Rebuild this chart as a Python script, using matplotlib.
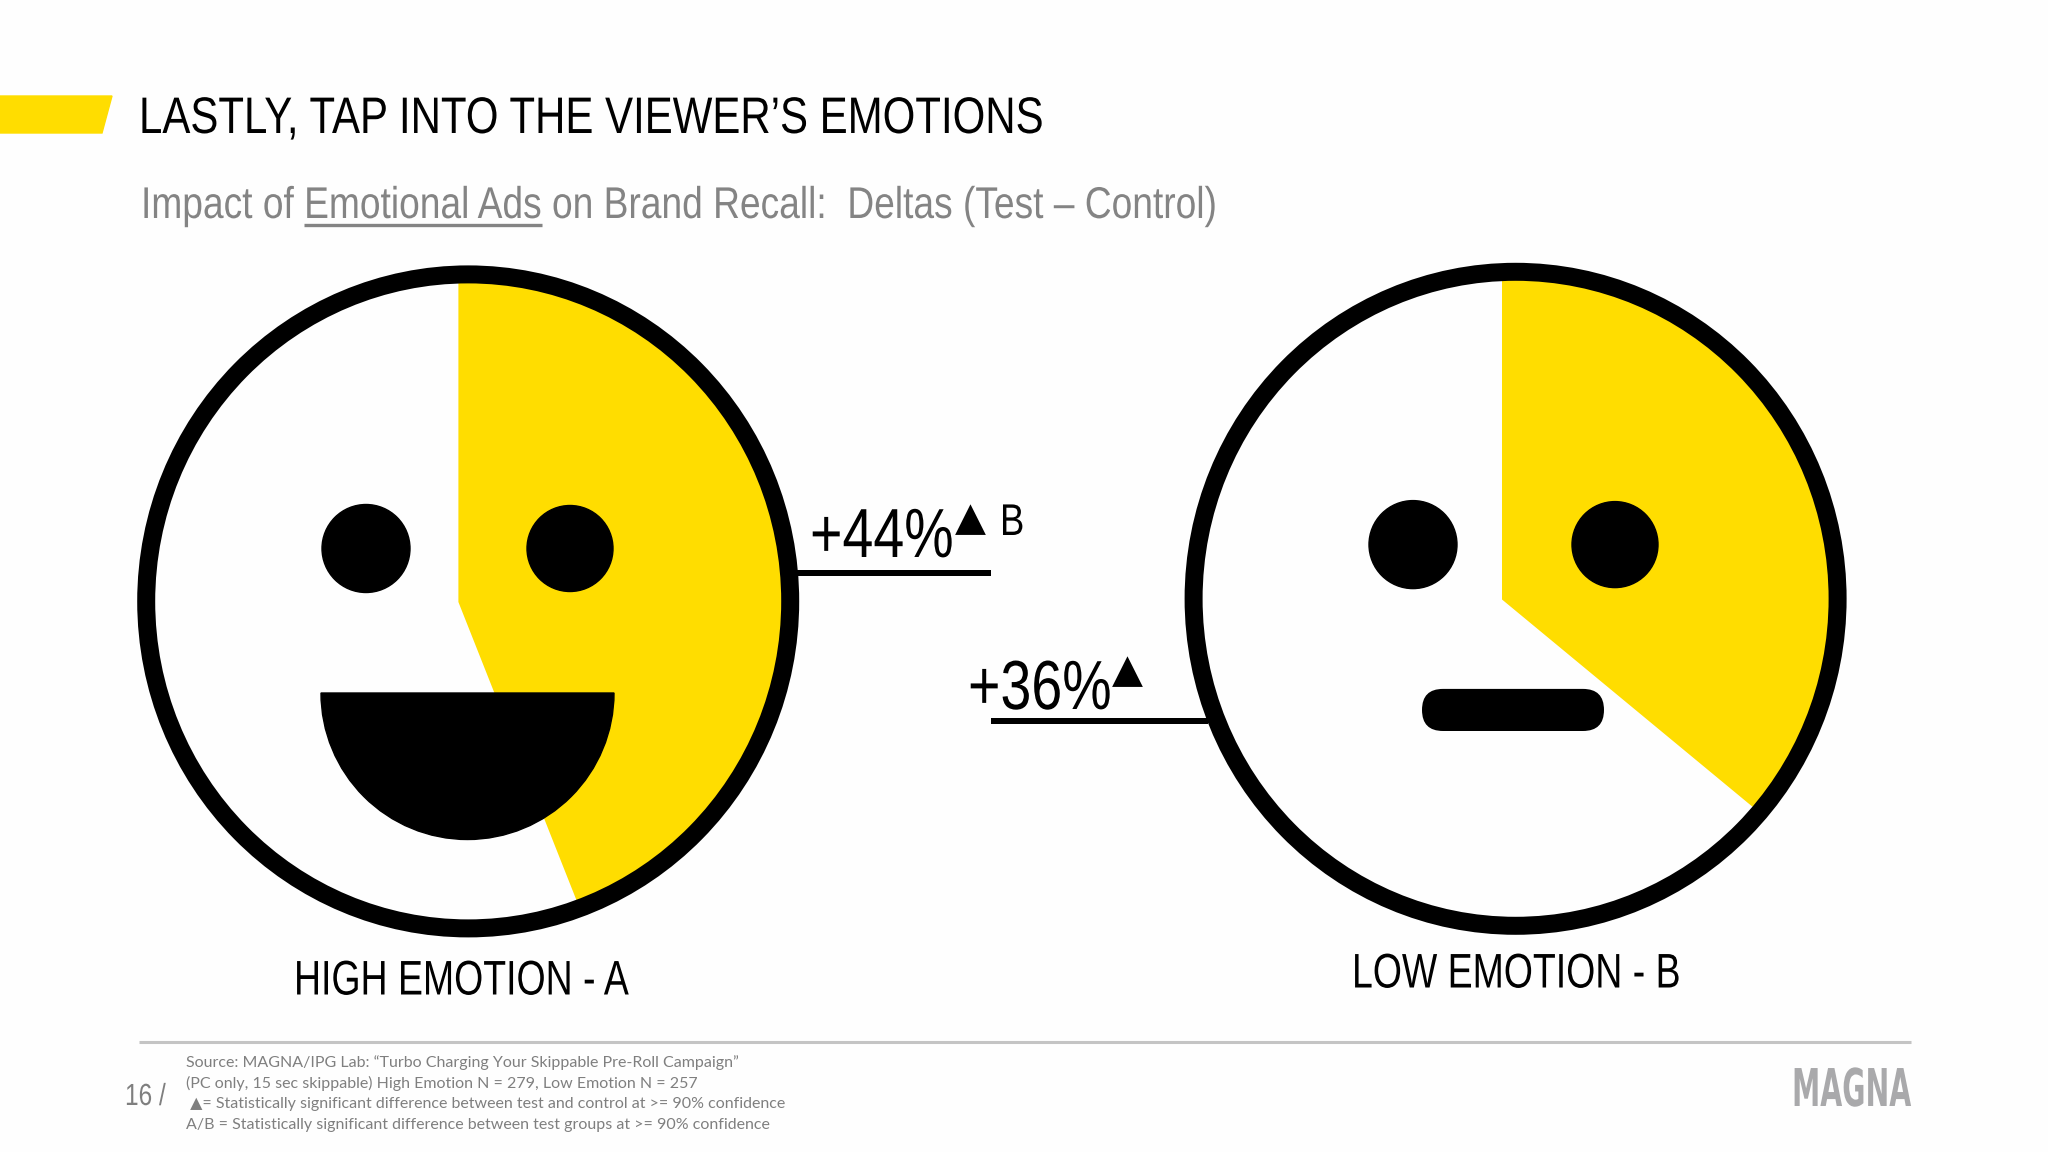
#Emotional ads slide
import matplotlib
matplotlib.use('Agg')
import matplotlib.pyplot as plt
from matplotlib.patches import Circle, Ellipse, Polygon, Wedge, FancyBboxPatch
from matplotlib.patheffects import AbstractPathEffect
from matplotlib.transforms import Affine2D

# data
deltas = [44, 36]
face_labels = ['HIGH EMOTION - A', 'LOW EMOTION - B']
title = 'LASTLY, TAP INTO THE VIEWER\u2019S EMOTIONS'
sub_before = 'Impact of '
sub_under = 'Emotional Ads'
sub_after = ' on Brand Recall:  Deltas (Test \u2013 Control)'
footer = ['Source: MAGNA/IPG Lab: \u201cTurbo Charging Your Skippable Pre-Roll Campaign\u201d',
          '(PC only, 15 sec skippable) High Emotion N = 279, Low Emotion N = 257',
          ' \u25b2= Statistically significant difference between test and control at >= 90% confidence',
          'A/B = Statistically significant difference between test groups at >= 90% confidence']

YELLOW = '#FFDD00'
SANS = 'Liberation Sans'
FOOT = ['Lato', 'DejaVu Sans']
H = 1152


class Squeeze(AbstractPathEffect):
    # no narrow font installed, so squeeze the glyphs sideways from the text's left edge
    def __init__(self, sx):
        super().__init__()
        self.sx = sx

    def draw_path(self, renderer, gc, tpath, affine, rgbFace=None):
        x0 = affine.get_matrix()[0, 2]
        squeeze = Affine2D().translate(-x0, 0).scale(self.sx, 1).translate(x0, 0)
        renderer.draw_path(gc, tpath, affine + squeeze, rgbFace)


def Y(py):
    # picture rows run downwards, the axes run upwards
    return H - py


def narrow(x, py, s, size, sx=0.82, family=SANS, **kw):
    return ax.text(x, Y(py), s, family=family, fontsize=size, va='baseline',
                   path_effects=[Squeeze(sx)], **kw)


fig = plt.figure(figsize=(20.48, 11.52), dpi=100, facecolor='#fefefe')
ax = fig.add_axes([0, 0, 1, 1])

# pies first, the rings cover their rims
for val, cx, cy, rad in zip(deltas, [458.4, 1502], [602, 599.5], [327, 331]):
    ax.pie([val, 100 - val], colors=[YELLOW, 'none'], startangle=90, counterclock=False,
           center=(cx, Y(cy)), radius=rad)

ax.set_xlim(0, 2048)
ax.set_ylim(0, H)
ax.set_aspect('equal')
ax.axis('off')

# the faces are a little taller than wide in the slide
for cx, cy in [(468.2, 601.4), (1515.6, 598.8)]:
    ax.add_patch(Ellipse((cx, Y(cy)), 2 * 322, 2 * 327, fill=False, ec='black', lw=18 * 0.72, zorder=3))

# eyes
for cx, cy, r in [(366, 548.5, 44), (570, 548.5, 43), (1413, 544.6, 44), (1615, 544.6, 43)]:
    ax.add_patch(Circle((cx, Y(cy)), r, color='black', zorder=4))

# mouths
ax.add_patch(Wedge((467.5, Y(693)), 146.5, 180, 360, color='black', zorder=4))
ax.add_patch(FancyBboxPatch((1422 + 21, Y(731) + 21), 182 - 42, 0.1, boxstyle='round,pad=21',
                            fc='black', ec='none', zorder=4))

# connectors
ax.plot([797, 991], [Y(572.7), Y(572.7)], color='black', lw=6 * 0.72, solid_capstyle='butt', zorder=2)
ax.plot([991, 1208], [Y(721), Y(721)], color='black', lw=6 * 0.72, solid_capstyle='butt', zorder=2)

# header
ax.add_patch(Polygon([(0, Y(96)), (112, Y(96)), (102, Y(133)), (0, Y(133))], color=YELLOW))
narrow(139, 133, title, 37, sx=0.817, color='black')

SUB_SX = 0.836
r = fig.canvas.get_renderer()
narrow(141, 218, sub_before + sub_under + sub_after, 32, sx=SUB_SX, color='#848484')
# measure where the underlined words start and end, then drop the measuring text
probe = narrow(141, 218, sub_before + 'x', 32)
start = probe.get_window_extent(r).width
probe.set_text('x')
start = 141 + (start - probe.get_window_extent(r).width) * SUB_SX
probe.set_text(sub_under)
end = start + probe.get_window_extent(r).width * SUB_SX
probe.remove()
ax.plot([start, end], [Y(225), Y(225)], color='#848484', lw=2.4, solid_capstyle='butt')

# delta labels
narrow(810, 557, f'+{deltas[0]}%', 50, sx=0.8, color='black')
ax.text(955, Y(530), '\u25b2', family='DejaVu Sans', fontsize=29, va='baseline')
narrow(1000, 535, 'B', 32, color='black')
narrow(968, 709, f'+{deltas[1]}%', 50, sx=0.8, color='black')
ax.text(1112, Y(682), '\u25b2', family='DejaVu Sans', fontsize=29, va='baseline')

# face names
narrow(294, 994.5, face_labels[0], 35, sx=0.77, color='black')
narrow(1352, 987.5, face_labels[1], 35, sx=0.77, color='black')

# footer
ax.plot([139, 1911], [Y(1042), Y(1042)], color='#c4c4c4', lw=2.2, solid_capstyle='butt')
for line, py in zip(footer, [1067, 1088, 1108, 1129]):
    ax.text(186, Y(py), line, family=FOOT, fontsize=11.55, color='#7f7f7f', va='baseline')
narrow(125, 1105, '16 /', 22, sx=0.8, color='#7f7f7f')
narrow(1792, 1106, 'MAGNA', 37.5, sx=0.545, family='DejaVu Sans', weight='bold', color='#a9a9ab')

fig.savefig('out.png', dpi=100, facecolor=fig.get_facecolor())
